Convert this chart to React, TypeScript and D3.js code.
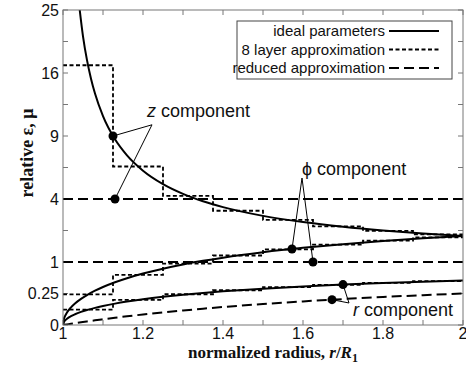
import React from "react";
import * as d3 from "d3";

// layer boundaries of the 8 layer approximation (r / R1)
const layerEdges = [1, 1.125, 1.25, 1.375, 1.5, 1.625, 1.75, 1.875, 2];
const layerZ = [17.0, 6.33, 4.2, 3.29, 2.78, 2.45, 2.23, 2.07];
const layerPhi = [0.235, 0.632, 0.952, 1.217, 1.44, 1.63, 1.793, 1.935];
const layerR = [0.0588, 0.158, 0.238, 0.304, 0.36, 0.407, 0.448, 0.484];

// ideal parameters
const rZ = [1.04, 1.05, 1.06, 1.07, 1.08, 1.1, 1.13, 1.16, 1.2, 1.25, 1.3, 1.35, 1.4, 1.5, 1.6, 1.7, 1.8, 1.9, 2];
const idealZ = [26, 21, 17.67, 15.29, 13.5, 11, 8.69, 7.25, 6, 5, 4.333, 3.857, 3.5, 3, 2.667, 2.429, 2.25, 2.111, 2];
const rIdeal = [1, 1.0025, 1.005, 1.01, 1.02, 1.03, 1.045, 1.06, 1.08, 1.1, 1.13, 1.16, 1.2, 1.25, 1.3, 1.35, 1.4, 1.5, 1.6, 1.7, 1.8, 1.9, 2];
const idealPhi = [0, 0.00998, 0.0199, 0.0396, 0.0784, 0.1165, 0.1722, 0.2264, 0.2963, 0.3636, 0.4602, 0.5517, 0.6667, 0.8, 0.9231, 1.037, 1.1429, 1.3333, 1.5, 1.6471, 1.7778, 1.8947, 2];
const idealR = [0, 0.0025, 0.004975, 0.0099, 0.0196, 0.0291, 0.0431, 0.0566, 0.0741, 0.0909, 0.115, 0.1379, 0.1667, 0.2, 0.2308, 0.2593, 0.2857, 0.3333, 0.375, 0.4118, 0.4444, 0.4737, 0.5];

// reduced approximation
const reducedZ = 4;
const reducedPhi = 1;
const reducedR = [0, 0.0000062, 0.0000248, 0.000098, 0.000384, 0.000848, 0.00186, 0.0032, 0.00549, 0.00826, 0.01323, 0.01902, 0.02778, 0.04, 0.05325, 0.06722, 0.08163, 0.1111, 0.1406, 0.1696, 0.1975, 0.2244, 0.25];

// axis ticks
const xTicks = [1, 1.1, 1.2, 1.3, 1.4, 1.5, 1.6, 1.7, 1.8, 1.9, 2];
const xLabels = [1, 1.2, 1.4, 1.6, 1.8, 2];
const yLabels = [0, 0.25, 1, 4, 9, 16, 25];
const yMinor = [2.25, 6.25, 12.25, 20.25];

const legendItems = ["ideal parameters", "8 layer approximation", "reduced approximation"];

// annotation markers: [r, value]
const zMarks = [[1.125, 9], [1.13, 4]];
const phiMarks = [[1.5725, 1.456], [1.625, 1]];
const rMarks = [[1.7, 0.412], [1.6725, 0.1617]];
const zApex = [1.2225, 10.1];
const phiApex = [1.5975, 5.44];
const rApex = [1.715, 0.122];

const W = 466;
const H = 372;
const margin = { top: 10, right: 3, bottom: 47, left: 63 };
const sans = "'Liberation Sans', Arial, Helvetica, sans-serif";
const serif = "'Liberation Serif', 'Times New Roman', serif";

const dashLayer = "4,2.5";
const dashReduced = "10,5";

export default function App() {
  const x = d3.scaleLinear().domain([1, 2]).range([margin.left, W - margin.right]);
  const y = d3.scaleSqrt().domain([0, 25]).range([H - margin.bottom, margin.top]);
  const [x0, x1] = x.range();
  const [y0, y1] = y.range();

  const line = d3
    .line<[number, number]>()
    .x((d) => x(d[0]))
    .y((d) => y(d[1]))
    .curve(d3.curveMonotoneX);

  const step = d3
    .line<[number, number]>()
    .x((d) => x(d[0]))
    .y((d) => y(d[1]))
    .curve(d3.curveStepAfter);

  const stepData = (vals: number[]) => {
    const pts: [number, number][] = vals.map((v, i) => [layerEdges[i], v]);
    pts.push([layerEdges[layerEdges.length - 1], vals[vals.length - 1]]);
    return pts;
  };

  const zip = (rs: number[], vs: number[]) => rs.map((r, i) => [r, vs[i]] as [number, number]);

  const tickLen = 5;

  return (
    <svg width={W} height={H} style={{ position: "absolute", left: 0, top: 0, background: "#fff" }}>
      <defs>
        <clipPath id="plotClip">
          <rect x={x0} y={y1} width={x1 - x0} height={y0 - y1} />
        </clipPath>
      </defs>

      {/* frame and ticks */}
      <g stroke="#777" strokeWidth={1}>
        {xTicks.map((t) => (
          <g key={"xt" + t}>
            <line x1={x(t)} x2={x(t)} y1={y0} y2={y0 - tickLen} />
            <line x1={x(t)} x2={x(t)} y1={y1} y2={y1 + tickLen} />
          </g>
        ))}
        {[...yLabels, ...yMinor].map((t) => (
          <g key={"yt" + t}>
            <line x1={x0} x2={x0 + tickLen} y1={y(t)} y2={y(t)} />
            <line x1={x1} x2={x1 - tickLen} y1={y(t)} y2={y(t)} />
          </g>
        ))}
      </g>

      <g fontFamily={sans} fontSize={16} fill="#111">
        {xLabels.map((t) => (
          <text key={"xl" + t} x={x(t)} y={y0 + 14} textAnchor="middle">
            {d3.format("~g")(t)}
          </text>
        ))}
        {yLabels.map((t) => (
          <text key={"yl" + t} x={x0 - 4} y={y(t)} textAnchor="end" dominantBaseline="central">
            {t}
          </text>
        ))}
      </g>

      <g clipPath="url(#plotClip)" fill="none" stroke="#000">
        {/* reduced approximation */}
        <line x1={x0} x2={x1} y1={y(reducedZ)} y2={y(reducedZ)} strokeWidth={2.2} strokeDasharray={dashReduced} />
        <line x1={x0} x2={x1} y1={y(reducedPhi)} y2={y(reducedPhi)} strokeWidth={2.2} strokeDasharray={dashReduced} />
        <path d={line(zip(rIdeal, reducedR)) || ""} strokeWidth={2} strokeDasharray={dashReduced} />

        {/* 8 layer approximation */}
        <path d={step(stepData(layerZ)) || ""} strokeWidth={1.8} strokeDasharray={dashLayer} />
        <path d={step(stepData(layerPhi)) || ""} strokeWidth={1.8} strokeDasharray={dashLayer} />
        <path d={step(stepData(layerR)) || ""} strokeWidth={1.8} strokeDasharray={dashLayer} />

        {/* ideal parameters */}
        <path d={line(zip(rZ, idealZ)) || ""} strokeWidth={2} />
        <path d={line(zip(rIdeal, idealPhi)) || ""} strokeWidth={2} />
        <path d={line(zip(rIdeal, idealR)) || ""} strokeWidth={2} />
      </g>

      <rect x={x0} y={y1} width={x1 - x0} height={y0 - y1} fill="none" stroke="#777" strokeWidth={1} />

      {/* annotations */}
      {[
        { marks: zMarks, apex: zApex },
        { marks: phiMarks, apex: phiApex },
        { marks: rMarks, apex: rApex },
      ].map((a, i) => (
        <g key={"an" + i}>
          {a.marks.map((m, j) => (
            <g key={j}>
              <line x1={x(m[0])} y1={y(m[1])} x2={x(a.apex[0])} y2={y(a.apex[1])} stroke="#000" strokeWidth={1} />
              <circle cx={x(m[0])} cy={y(m[1])} r={4.5} fill="#000" />
            </g>
          ))}
        </g>
      ))}
      <g fontFamily={sans} fontSize={18} fill="#111">
        <text x={x(1.21)} y={y(10.9)}>
          <tspan fontStyle="italic">z</tspan> component
        </text>
        <text x={x(1.5975)} y={y(5.67)}>
          {"\u03d5"} component
        </text>
        <text x={x(1.725)} y={y(0.0204)}>
          <tspan fontStyle="italic">r</tspan> component
        </text>
      </g>

      {/* legend */}
      <g>
        <rect x={237} y={21} width={215} height={58} fill="#fff" stroke="#444" strokeWidth={1} />
        {legendItems.map((name, i) => {
          const ly = 31 + i * 18.5;
          return (
            <g key={name}>
              <text x={385} y={ly + 5} textAnchor="end" fontFamily={sans} fontSize={15} fill="#111">
                {name}
              </text>
              <line
                x1={389}
                x2={439}
                y1={ly}
                y2={ly}
                stroke="#000"
                strokeWidth={i === 0 ? 2 : i === 1 ? 1.8 : 2}
                strokeDasharray={i === 0 ? undefined : i === 1 ? dashLayer : dashReduced}
              />
            </g>
          );
        })}
      </g>

      {/* axis titles */}
      <text
        x={(x0 + x1) / 2 + 10}
        y={358}
        textAnchor="middle"
        fontFamily={serif}
        fontWeight="bold"
        fontSize={17}
        fill="#111"
      >
        normalized radius, <tspan fontStyle="italic">r</tspan>/<tspan fontStyle="italic">R</tspan>
        <tspan fontSize={12} dy={4}>1</tspan>
      </text>
      <text
        transform={`translate(33, ${153}) rotate(-90)`}
        textAnchor="middle"
        fontFamily={serif}
        fontWeight="bold"
        fontSize={18}
        fill="#111"
      >
        relative ε, μ
      </text>
    </svg>
  );
}
